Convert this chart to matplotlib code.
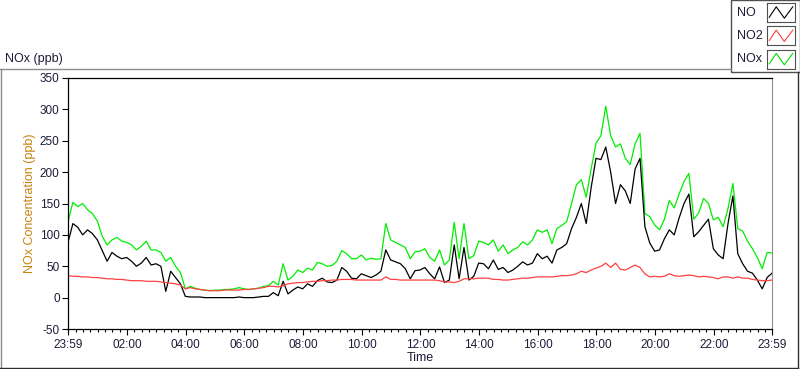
"""
NOx / NO / NO2 concentration over one day
"""
import numpy as np
import matplotlib.pyplot as plt
from matplotlib.lines import Line2D
from matplotlib.patches import Rectangle

plt.rcParams['font.family'] = ['Liberation Sans', 'DejaVu Sans']
plt.rcParams['axes.unicode_minus'] = False

# one reading every 10 minutes, from 23:59 to 23:59 next day (hours since start)
step_minutes = 10
no_ppb = [88, 118, 112, 100, 108, 102, 92, 75, 58, 72, 66, 62, 64, 58, 50, 55, 64, 52, 54, 50,
          10, 42, 32, 22, 2, 1, 1, 1, 0, 0, 0, 0, 0, 0, 0, 1, 0, 0, 0, 1,
          2, 2, 8, 3, 26, 6, 12, 17, 14, 22, 18, 27, 31, 25, 24, 28, 48, 42, 31, 30,
          38, 35, 32, 36, 42, 76, 60, 57, 54, 46, 30, 43, 44, 48, 38, 30, 49, 24, 28, 84,
          30, 80, 28, 34, 55, 54, 46, 60, 45, 48, 40, 44, 50, 57, 52, 55, 70, 62, 66, 55,
          76, 80, 86, 110, 128, 150, 118, 175, 222, 220, 240, 200, 150, 180, 170, 150, 205, 222, 113, 87,
          74, 76, 94, 108, 100, 127, 150, 165, 97, 105, 115, 125, 78, 68, 62, 118, 162, 70, 54, 42,
          39, 28, 14, 32, 39]
no2_ppb = [35, 34, 34, 33, 33, 32, 32, 31, 30, 30, 29, 29, 28, 27, 27, 27, 26, 26, 26, 25,
           24, 23, 22, 20, 14, 16, 14, 13, 12, 11, 11, 11, 12, 12, 12, 12, 13, 13, 14, 15,
           16, 18, 18, 17, 19, 22, 23, 24, 24, 25, 26, 26, 27, 27, 28, 28, 29, 29, 29, 28,
           28, 28, 28, 28, 28, 33, 29, 29, 28, 28, 28, 28, 28, 28, 28, 28, 27, 25, 25, 24,
           26, 30, 30, 30, 31, 31, 31, 29, 29, 28, 28, 29, 30, 31, 31, 32, 33, 33, 33, 33,
           34, 35, 35, 36, 38, 42, 40, 44, 47, 50, 55, 48, 55, 45, 44, 48, 52, 48, 38, 33,
           34, 33, 34, 38, 35, 34, 35, 36, 35, 33, 34, 33, 32, 30, 33, 33, 31, 33, 31, 31,
           29, 28, 27, 27, 28]
nox_ppb = [121, 152, 145, 150, 140, 134, 122, 98, 84, 92, 96, 90, 88, 84, 76, 82, 90, 76, 76, 72,
           58, 64, 50, 40, 14, 18, 15, 13, 12, 11, 12, 12, 13, 13, 14, 16, 14, 13, 14, 15,
           18, 19, 26, 20, 54, 28, 34, 44, 40, 47, 44, 56, 54, 50, 51, 58, 75, 70, 62, 62,
           68, 60, 63, 61, 62, 118, 92, 88, 84, 80, 62, 73, 74, 78, 64, 58, 76, 52, 60, 120,
           62, 118, 62, 67, 90, 88, 84, 92, 74, 84, 70, 76, 80, 89, 84, 92, 108, 104, 108, 86,
           110, 115, 121, 150, 180, 188, 160, 205, 246, 258, 305, 258, 240, 245, 222, 212, 245, 262, 134, 129,
           116, 108, 125, 155, 143, 165, 185, 198, 125, 135, 158, 150, 124, 128, 113, 142, 182, 110, 106, 90,
           78, 64, 46, 72, 71]

tick_labels = ['23:59', '02:00', '04:00', '06:00', '08:00', '10:00', '12:00',
               '14:00', '16:00', '18:00', '20:00', '22:00', '23:59']
y_ticks = [-50, 0, 50, 100, 150, 200, 250, 300, 350]

time = np.arange(len(no_ppb)) * step_minutes / 60.0
# first label is 23:59, the rest are on the hour (1 min after start + n hours)
tick_pos = [0.0] + [2 * i + 1 / 60 for i in range(1, 12)] + [24.0]
minor_pos = [1 / 60 + 0.25 * j for j in range(96)]

W, H = 800, 369
fig = plt.figure(figsize=(W / 100, H / 100), dpi=100)


def fx(px):
    return px / W


def fy(py):
    return 1 - py / H


# outer frame
frame_gray = '#8c8c8c'
fig.add_artist(Line2D([fx(0), fx(731)], [fy(69), fy(69)], color=frame_gray, lw=1))
fig.add_artist(Line2D([fx(1), fx(1)], [fy(69), fy(367)], color=frame_gray, lw=1))
fig.add_artist(Line2D([fx(0), fx(798)], [fy(367.5), fy(367.5)], color='#303030', lw=1))
fig.add_artist(Line2D([fx(797.5), fx(797.5)], [fy(72), fy(368)], color='#303030', lw=1))

ax = fig.add_axes([fx(68), fy(329), (772 - 68) / W, (329 - 78) / H])
ax.plot(time, nox_ppb, color='#00ee00', lw=0.9)
ax.plot(time, no_ppb, color='black', lw=0.9)
ax.plot(time, no2_ppb, color='#ff4040', lw=0.9)

ax.set_xlim(0, 24)
ax.set_ylim(-50, 350)
ax.set_yticks(y_ticks)
ax.set_xticks(tick_pos)
ax.set_xticklabels(tick_labels)
ax.set_xticks(minor_pos, minor=True)
ax.tick_params(axis='both', which='major', direction='out', length=4, width=0.8,
               labelsize=8.5, labelcolor='#1c1c38', pad=2)
ax.tick_params(axis='x', which='minor', direction='out', length=2, width=0.8)
ax.tick_params(axis='x', which='major', pad=3)
ax.spines['right'].set_color('#909090')
for s in ['left', 'bottom', 'top']:
    ax.spines[s].set_color('black')
    ax.spines[s].set_linewidth(0.9)
ax.set_xlabel('Time', fontsize=9, labelpad=1, color='#1c1c38')
ax.set_ylabel('NOx Concentration (ppb)', fontsize=9, color='#c8820f', labelpad=3)

fig.text(fx(5), fy(59), 'NOx (ppb)', fontsize=9, va='center', ha='left', color='#1c1c38')

# legend panel
fig.add_artist(Rectangle((fx(730.5), fy(72)), fx(800) - fx(730.5), fy(0) - fy(72),
                         transform=fig.transFigure, facecolor='white',
                         edgecolor='#505050', lw=1, zorder=0.5))
names = ['NO', 'NO2', 'NOx']
colors = ['black', '#ff4040', '#00dd00']
for i, (name, col) in enumerate(zip(names, colors)):
    top = 3 + 23.3 * i
    fig.text(fx(737), fy(top + 9.5), name, fontsize=9, va='center', ha='left',
             color='#1c1c38', zorder=3)
    sax = fig.add_axes([fx(767), fy(top + 19), (795 - 767) / W, 19 / H])
    sax.set_zorder(2)
    sax.plot([0.08, 0.33, 0.62, 0.92], [0.25, 0.8, 0.2, 0.8], color=col, lw=0.8)
    sax.set_xlim(0, 1)
    sax.set_ylim(0, 1)
    sax.set_xticks([])
    sax.set_yticks([])
    for s in sax.spines.values():
        s.set_color('#505050')
        s.set_linewidth(0.8)

fig.savefig('out.png', dpi=100)
